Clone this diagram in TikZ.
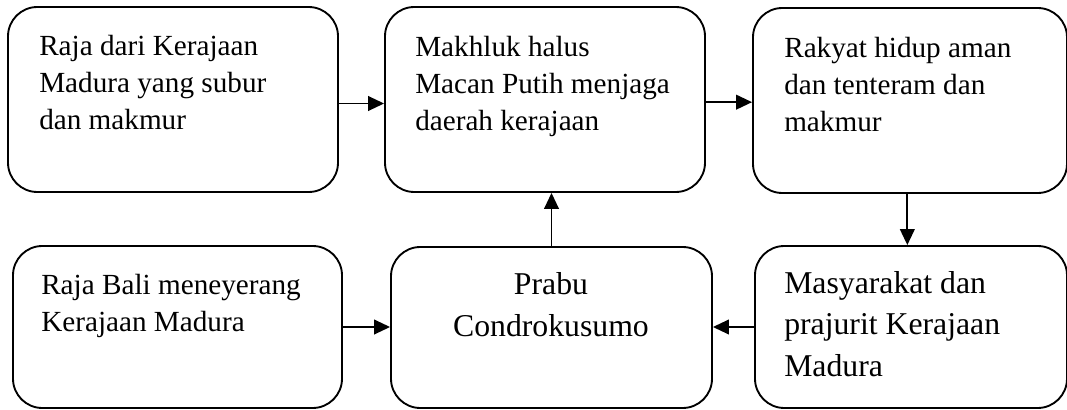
\documentclass[tikz,border=0pt]{standalone}
\usepackage{fontspec}
\setmainfont{Liberation Serif}
\usetikzlibrary{arrows.meta,calc,fit}
\begin{document}
\begin{tikzpicture}[x=0.75pt,y=-0.75pt,
  box/.style={draw, line width=1.4pt, rounded corners=22pt, inner sep=0pt},
  txt/.style={anchor=base west, align=left, inner sep=0pt, font=\fontsize{21.9pt}{27.7pt}\selectfont},
  txtb/.style={anchor=base west, align=left, inner sep=0pt, font=\fontsize{23.8pt}{31pt}\selectfont},
  arr/.style={line width=1.4pt, -{Triangle[length=12pt,width=11pt]}}]
\useasboundingbox (0,0) rectangle (1067,410);
% boxes
\node[box, fit={(8,7) (338,192)}] (A) {};
\node[box, fit={(385,7) (705,192)}] (B) {};
\node[box, fit={(753,8) (1067,193)}] (C) {};
\node[box, fit={(13,246) (342,408)}] (D) {};
\node[box, fit={(391,247) (712,408)}] (E) {};
\node[box, fit={(755,246) (1067,408)}] (F) {};
% texts (anchored at the baseline of the last line)
\node[txt] (tA) at (39,129) {Raja dari Kerajaan\\Madura yang subur\\dan makmur};
\node[txt] (tB) at (415,130) {Makhluk halus\\Macan Putih menjaga\\daerah kerajaan};
\node[txt] (tC) at (784,131) {Rakyat hidup aman\\dan tenteram dan\\makmur};
\node[txt] (tD) at (41,331) {Raja Bali meneyerang\\Kerajaan Madura};
\node[txtb, anchor=base, align=center] (tE) at (551,336) {Prabu\\Condrokusumo};
\node[txtb] (tF) at (784,376) {Masyarakat dan\\prajurit Kerajaan\\Madura};
% connectors
\draw[arr] ([yshift=-3pt]A.east) -- ([yshift=-3pt]B.west);
\draw[arr] ([yshift=-2pt]B.east) -- ([yshift=-2pt]B.east -| C.west);
\draw[arr] ([xshift=-2pt]C.south) -- ([xshift=-2pt]C.south |- F.north);
\draw[arr] (F.west) -- (F.west -| E.east);
\draw[arr] (D.east) -- (D.east -| E.west);
\draw[arr] (E.north) -- (E.north |- B.south);
\end{tikzpicture}
\end{document}
